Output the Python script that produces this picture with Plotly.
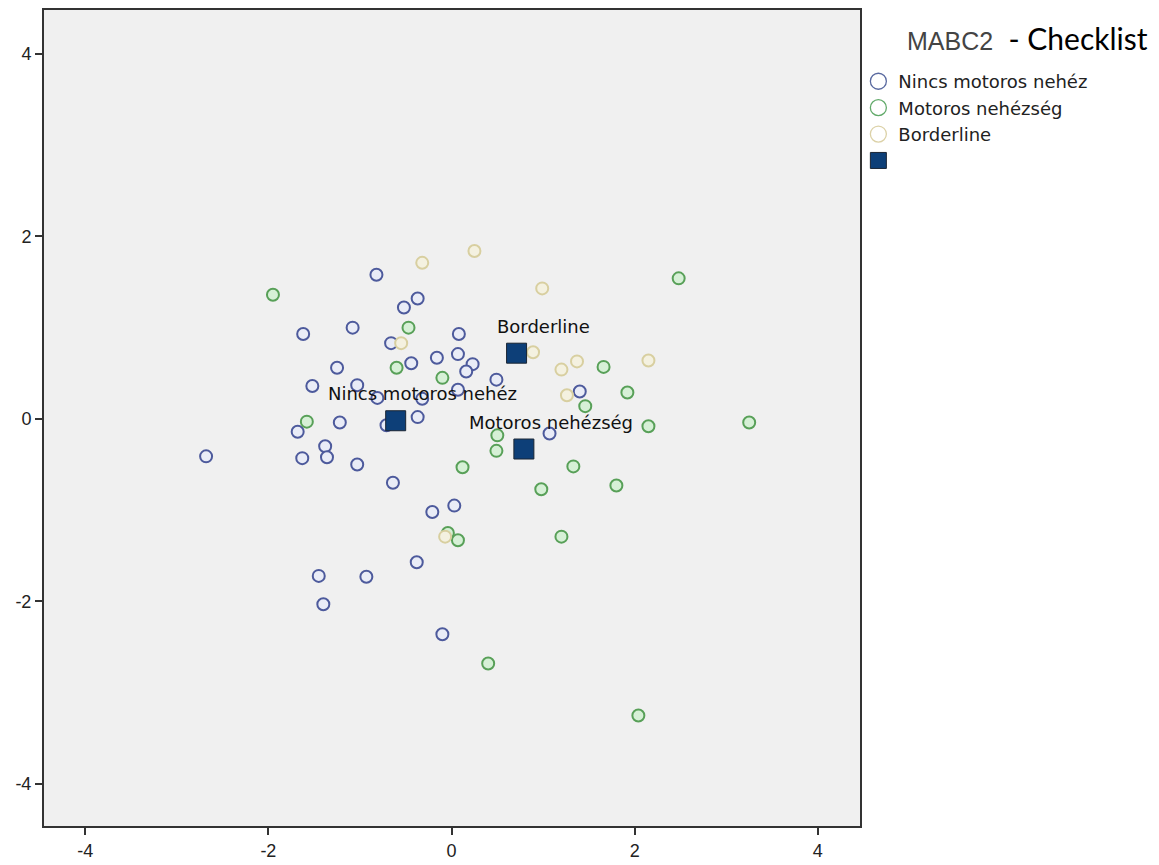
import plotly.graph_objects as go

# --- Data ---
nincs_x = [-0.82, -0.37, -0.52, -1.62, -1.08, -0.66, 0.08, 0.07, -0.16, 0.23, 0.16, -0.44, -1.25,
           0.49, -1.52, -1.03, -0.81, -0.32, 0.07, -0.37, -0.71, -1.22, -1.68, -1.38, -1.36, -1.63,
           -2.68, -1.03, -0.64, 0.03, -0.21, -0.38, -1.45, -0.93, -1.40, -0.10, 1.40, 1.07]
nincs_y = [1.58, 1.32, 1.22, 0.93, 1.00, 0.83, 0.93, 0.71, 0.67, 0.60, 0.52, 0.61, 0.56,
           0.43, 0.36, 0.37, 0.23, 0.22, 0.32, 0.02, -0.07, -0.04, -0.14, -0.30, -0.42, -0.43,
           -0.41, -0.50, -0.70, -0.95, -1.02, -1.57, -1.72, -1.73, -2.03, -2.36, 0.30, -0.16]

motoros_x = [-1.95, -0.47, -0.60, -0.10, -1.58, 0.50, 0.49, 0.12, 2.48, 1.66, 1.92, 1.46, 2.15,
             3.25, 1.33, 0.98, 1.80, 1.20, -0.04, 0.07, 0.40, 2.04]
motoros_y = [1.36, 1.00, 0.56, 0.45, -0.03, -0.18, -0.35, -0.53, 1.54, 0.57, 0.29, 0.14, -0.08,
             -0.04, -0.52, -0.77, -0.73, -1.29, -1.25, -1.33, -2.68, -3.25]

border_x = [-0.32, 0.25, 0.99, 0.89, 1.37, 1.20, 2.15, 1.26, -0.55, -0.07]
border_y = [1.71, 1.84, 1.43, 0.73, 0.63, 0.54, 0.64, 0.26, 0.83, -1.29]

centroid_labels = ["Nincs motoros nehéz", "Motoros nehézség", "Borderline"]
centroid_x = [-0.61, 0.79, 0.71]
centroid_y = [-0.02, -0.33, 0.72]

group_names = ["Nincs motoros nehéz", "Motoros nehézség", "Borderline"]
tick_vals = [-4, -2, 0, 2, 4]

# --- Styles ---
line_cols = ["#4d5a9c", "#58a058", "#d8cfa0"]
fill_cols = ["#e9ecf7", "#d6f0d6", "#f4f1e0"]
legend_line_cols = ["#5a6aa0", "#62aa6a", "#dcd2a8"]

fig = go.Figure()

series = [(nincs_x, nincs_y), (motoros_x, motoros_y), (border_x, border_y)]
for i, (xs, ys) in enumerate(series):
    fig.add_trace(go.Scatter(
        x=xs, y=ys, mode="markers", showlegend=False,
        marker=dict(symbol="circle", size=12, color=fill_cols[i],
                    line=dict(color=line_cols[i], width=2)),
    ))

fig.add_trace(go.Scatter(
    x=centroid_x, y=centroid_y, mode="markers", showlegend=False,
    marker=dict(symbol="square", size=20, color="#0d3f78",
                line=dict(color="#1a2533", width=1)),
))

# legend-only entries
for i, name in enumerate(group_names):
    fig.add_trace(go.Scatter(
        x=[None], y=[None], mode="markers", name=name,
        marker=dict(symbol="circle", size=16, color="white",
                    line=dict(color=legend_line_cols[i], width=1.3)),
    ))
fig.add_trace(go.Scatter(
    x=[None], y=[None], mode="markers", name=" ",
    marker=dict(symbol="square", size=16, color="#0d3f78",
                line=dict(color="#1a2533", width=1)),
))

for lab, cx, cy in zip(centroid_labels, centroid_x, centroid_y):
    fig.add_annotation(x=cx, y=cy, text=lab, showarrow=False,
                       xshift=27, yshift=27,
                       font=dict(family="DejaVu Sans", size=18, color="#111"))

fig.add_annotation(
    xref="paper", yref="paper", x=1.055, y=0.9657, xanchor="left", yanchor="middle",
    showarrow=False,
    text=('<span style="color:#444">MABC2</span>'
          '<span style="font-family:Lato, Open Sans;font-size:30px;color:#000">  - Checklist</span>'),
    font=dict(family="Liberation Sans, Arial", size=25, color="#444"),
)

axis_common = dict(
    tickmode="array", tickvals=tick_vals, ticktext=[str(v) for v in tick_vals],
    ticks="outside", ticklen=7, tickwidth=2, tickcolor="#333",
    showline=True, linecolor="#333", linewidth=2, mirror=True,
    showgrid=False, zeroline=False, automargin=False,
    tickfont=dict(family="Liberation Sans Narrow, Liberation Sans, Arial", size=18, color="#222"),
)

fig.update_layout(
    width=1159, height=865,
    margin=dict(l=44, r=299, t=10, b=39),
    paper_bgcolor="white", plot_bgcolor="#f0f0f0",
    xaxis=dict(range=[-4.45, 4.46], **axis_common),
    yaxis=dict(range=[-4.46, 4.48], **axis_common),
    legend=dict(x=0.998, y=0.935, xanchor="left", yanchor="top",
                bgcolor="rgba(0,0,0,0)", tracegroupgap=0,
                font=dict(family="DejaVu Sans", size=18, color="#222")),
)

fig.write_html("out.html")
